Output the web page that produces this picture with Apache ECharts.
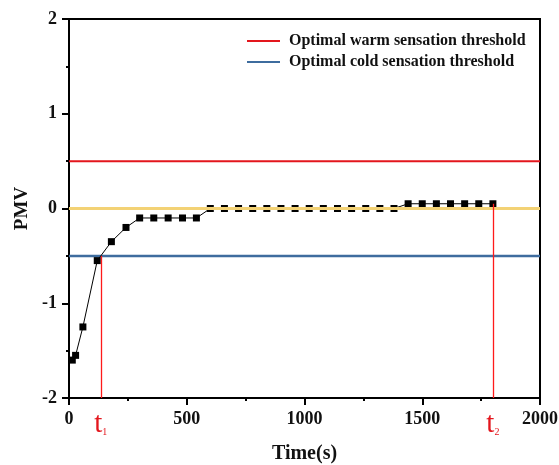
<!DOCTYPE html>
<html>
<head>
<meta charset="utf-8">
<script src="https://cdn.jsdelivr.net/npm/echarts@6/dist/echarts.min.js"></script>
<style>html,body{margin:0;padding:0;background:#fff}#c{width:559px;height:465px}</style>
</head>
<body>
<div id="c"></div>
<script>
// Data
var timeS = [14, 28, 59, 120, 180, 242, 300, 360, 421, 482, 541,
  600, 660, 720, 780, 840, 900, 960, 1020, 1080, 1140, 1200, 1260, 1320, 1380,
  1440, 1500, 1560, 1620, 1680, 1740, 1800];
var pmv = [-1.6, -1.55, -1.25, -0.55, -0.35, -0.2, -0.1, -0.1, -0.1, -0.1, -0.1,
  0, 0, 0, 0, 0, 0, 0, 0, 0, 0, 0, 0, 0, 0,
  0.05, 0.05, 0.05, 0.05, 0.05, 0.05, 0.05];
var warmThreshold = 0.5;
var coldThreshold = -0.5;
var neutralLine = 0;
var t1 = 135, t2 = 1800;
var xTicks = [0, 500, 1000, 1500, 2000];
var xLabelValues = [0, 135, 500, 1000, 1500, 1800, 2000];
var yTicks = [-2, -1, 0, 1, 2];
var legendNames = ['Optimal warm sensation threshold', 'Optimal cold sensation threshold'];

var serif = '"Liberation Serif", "DejaVu Serif", serif';
var RED = '#e3161d', BLUE = '#3e6c9e', YELLOW = '#f3d275';

var chart = echarts.init(document.getElementById('c'), null, {renderer: 'canvas'});
var pts = timeS.map(function (t, i) { return [t, pmv[i]]; });

chart.setOption({
  animation: false,
  grid: {left: 69, right: 19, top: 19, bottom: 67, show: true, borderColor: '#000', borderWidth: 2,
    containLabel: false, outerBoundsMode: 'none'},
  legend: {
    data: legendNames,
    orient: 'vertical', left: 247, top: 33, itemWidth: 33, itemHeight: 15, itemGap: 5, padding: 0,
    icon: 'path://M0,6 L33,6 L33,8 L0,8 Z',
    textStyle: {fontFamily: serif, fontWeight: 'bold', fontSize: 16, color: '#111', padding: [0, 0, 0, 4]}
  },
  xAxis: {
    type: 'value', min: 0, max: 2000, interval: 500,
    name: 'Time(s)', nameLocation: 'middle', nameGap: 46,
    nameTextStyle: {fontFamily: serif, fontWeight: 'bold', fontSize: 20, color: '#111'},
    axisLine: {show: true, onZero: false, lineStyle: {color: '#000', width: 2}},
    axisTick: {show: true, length: 7, lineStyle: {color: '#000', width: 2}, customValues: xTicks},
    minorTick: {show: true, splitNumber: 2, length: 3, lineStyle: {color: '#000', width: 2}},
    splitLine: {show: false},
    axisLabel: {
      customValues: xLabelValues, margin: 12,
      fontFamily: serif, fontWeight: 'bold', fontSize: 18, color: '#111',
      formatter: function (v) {
        if (v === t1) return '{t|t}{s|1}';
        if (v === t2) return '{t|t}{s|2}';
        return String(v);
      },
      rich: {
        t: {fontFamily: serif, fontSize: 29, color: RED, fontWeight: 'normal', verticalAlign: 'bottom'},
        s: {fontFamily: serif, fontSize: 10, color: RED, fontWeight: 'normal', verticalAlign: 'bottom', padding: [0, 0, 2, 0]}
      }
    }
  },
  yAxis: {
    type: 'value', min: -2, max: 2, interval: 1,
    name: 'PMV', nameLocation: 'middle', nameGap: 36, nameRotate: 90,
    nameTextStyle: {fontFamily: serif, fontWeight: 'bold', fontSize: 19, color: '#111'},
    axisLine: {show: true, onZero: false, lineStyle: {color: '#000', width: 2}},
    axisTick: {show: true, length: 7, lineStyle: {color: '#000', width: 2}},
    minorTick: {show: true, splitNumber: 2, length: 3, lineStyle: {color: '#000', width: 2}},
    splitLine: {show: false},
    axisLabel: {margin: 12, fontFamily: serif, fontWeight: 'bold', fontSize: 18, color: '#111',
      formatter: function (v) { return yTicks.indexOf(v) >= 0 ? String(v) : ''; }}
  },
  series: [
    {
      name: legendNames[0], type: 'line', z: 1, symbol: 'none', silent: true,
      data: [[0, warmThreshold], [2000, warmThreshold]],
      lineStyle: {color: RED, width: 2}, itemStyle: {color: RED}
    },
    {
      name: legendNames[1], type: 'line', z: 1, symbol: 'none', silent: true,
      data: [[0, coldThreshold], [2000, coldThreshold]],
      lineStyle: {color: BLUE, width: 2.5}, itemStyle: {color: BLUE}
    },
    {
      name: 'PMV', type: 'line', z: 3, data: pts,
      symbol: 'rect', symbolSize: 7, showSymbol: true,
      lineStyle: {color: '#000', width: 1}, itemStyle: {color: '#000'},
      markLine: {
        silent: true, symbol: 'none', label: {show: false},
        emphasis: {disabled: true},
        lineStyle: {color: '#ff1a1a', width: 1.3, type: 'solid', opacity: 1},
        data: [
          [{coord: [t1, coldThreshold], lineStyle: {color: '#ff1a1a'}}, {coord: [t1, -2]}],
          [{coord: [t2, pmv[pmv.length - 1]], lineStyle: {color: '#ff1a1a'}}, {coord: [t2, -2]}]
        ]
      }
    },
    {
      name: 'neutral', type: 'line', z: 4, symbol: 'none', silent: true,
      data: [[0, neutralLine], [2000, neutralLine]],
      lineStyle: {color: YELLOW, width: 3}
    }
  ]
});
</script>
</body>
</html>
